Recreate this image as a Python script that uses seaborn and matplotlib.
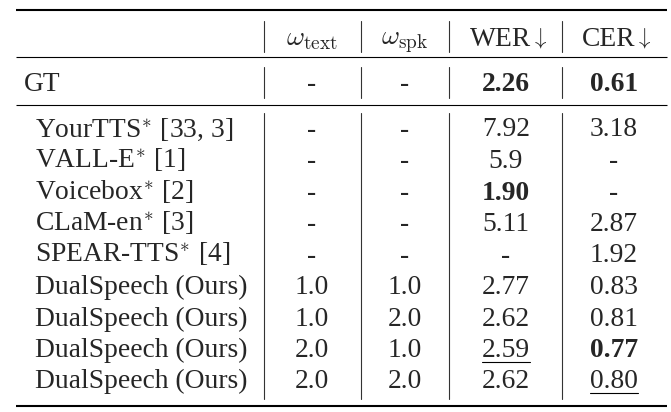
import numpy as np
import pandas as pd
import matplotlib
matplotlib.use("Agg")
import matplotlib.pyplot as plt
import seaborn as sns

sns.set_theme(style="white")
plt.rcParams['font.family'] = ['Liberation Serif', 'DejaVu Serif']
plt.rcParams['mathtext.fontset'] = 'cm'

# table contents
headers = [r"$\omega_{\mathrm{text}}$", r"$\omega_{\mathrm{spk}}$", "WER", "CER"]
arrow_cols = [2, 3]
gt_row = ["GT", "-", "-", "2.26", "0.61"]
names = ["YourTTS$^{*}$ [33, 3]", "VALL-E$^{*}$ [1]", "Voicebox$^{*}$ [2]", "CLaM-en$^{*}$ [3]",
         "SPEAR-TTS$^{*}$ [4]", "DualSpeech (Ours)", "DualSpeech (Ours)", "DualSpeech (Ours)",
         "DualSpeech (Ours)"]
w_text = ["-", "-", "-", "-", "-", "1.0", "1.0", "2.0", "2.0"]
w_spk = ["-", "-", "-", "-", "-", "1.0", "2.0", "1.0", "2.0"]
wer = ["7.92", "5.9", "1.90", "5.11", "-", "2.77", "2.62", "2.59", "2.62"]
cer = ["3.18", "-", "-", "2.87", "1.92", "0.83", "0.81", "0.77", "0.80"]
# best = bold, second best = underline  (row, column)
bold_cells = [(2, 3), (7, 4)]
under_cells = [(7, 3), (8, 4)]
gt_bold = [3, 4]

body = pd.DataFrame({"name": names, "w_text": w_text, "w_spk": w_spk, "wer": wer, "cer": cer})

fig = plt.figure(figsize=(6.71, 4.12), dpi=100)
ax = fig.add_axes([0, 0, 1, 1])
ax.set_xlim(0, 671)
ax.set_ylim(412, 0)
ax.axis("off")

fs = 19.8
col_x = [35, 312, 405, 506, 614]
gt_x = 24
vlines_x = [264, 361, 449, 562]
x_left, x_right = 16, 667

# horizontal rules
ax.plot([x_left, x_right], [9.5, 9.5], color="black", lw=1.5, solid_capstyle="butt")
ax.plot([x_left, x_right], [57, 57], color="black", lw=0.8, solid_capstyle="butt")
ax.plot([x_left, x_right], [105, 105], color="black", lw=0.8, solid_capstyle="butt")
ax.plot([x_left, x_right], [405.5, 405.5], color="black", lw=1.5, solid_capstyle="butt")

# vertical rules per block
for xv in vlines_x:
    for y0, y1 in [(21, 52), (67, 98), (113, 399)]:
        ax.plot([xv, xv], [y0, y1], color="#333333", lw=0.8)

# header
head_texts = []
for j, h in enumerate(headers):
    t = ax.text(col_x[j + 1], 45.5, h, ha="center", va="baseline", fontsize=fs)
    head_texts.append(t)

# GT row
for j, v in enumerate(gt_row):
    ax.text(gt_x if j == 0 else col_x[j], 91, v, ha="left" if j == 0 else "center",
            va="baseline", fontsize=fs, fontweight="bold" if j in gt_bold else "normal")

# body rows
row0, step = 136.5, 31.5
underline_texts = []
for i, row in body.iterrows():
    yb = row0 + i * step
    for j, v in enumerate(row.values):
        t = ax.text(col_x[j], yb, v, ha="left" if j == 0 else "center", va="baseline",
                    fontsize=fs, fontweight="bold" if (i, j) in bold_cells else "normal")
        if (i, j) in under_cells:
            underline_texts.append((t, yb))

fig.canvas.draw()
inv = ax.transData.inverted()

# arrows after WER / CER, the pair centred in the column
for j in arrow_cols:
    t = head_texts[j]
    bb = t.get_window_extent()
    (xa, _), (xb, _) = inv.transform([[bb.x0, bb.y0], [bb.x1, bb.y1]])
    shift = 5
    t.set_x(t.get_position()[0] - shift)
    ax.text(xb - shift - 1.5, 43, r"$\downarrow$", ha="left", va="baseline", fontsize=16.5)

for t, yb in underline_texts:
    bb = t.get_window_extent()
    (xa, _), (xb, _) = inv.transform([[bb.x0, bb.y0], [bb.x1, bb.y1]])
    ax.plot([xa, xb], [yb + 4.5, yb + 4.5], color="black", lw=0.8)

fig.savefig("out.png", dpi=100)
